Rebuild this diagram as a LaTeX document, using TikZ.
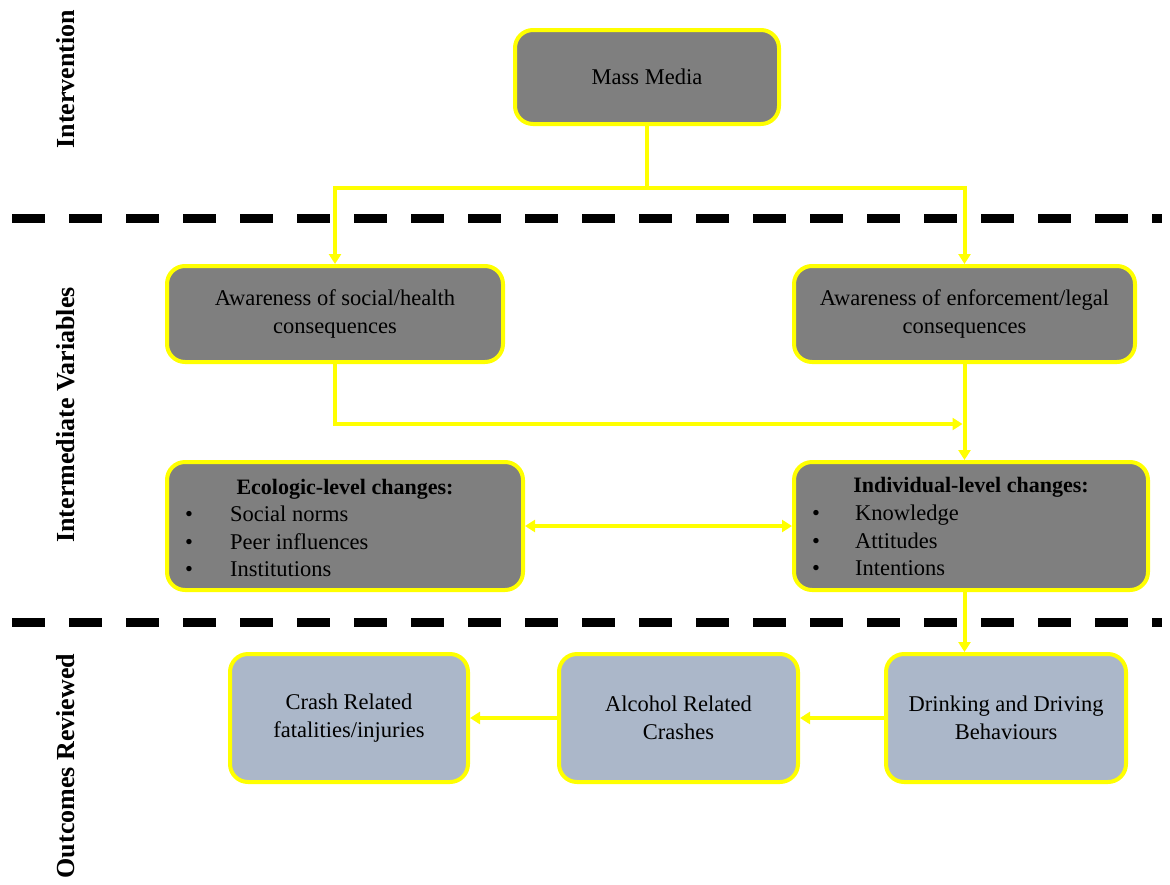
\documentclass[tikz,border=0pt]{standalone}
\usepackage{fontspec}
\setmainfont{Liberation Serif}
\usetikzlibrary{arrows.meta}
\definecolor{boxgray}{HTML}{7F7F7F}
\definecolor{boxblue}{HTML}{ABB7C9}
\definecolor{linkyellow}{HTML}{FFFF00}
\tikzset{
  box/.style={rectangle, rounded corners=18pt, draw=linkyellow, line width=4pt,
              fill=boxgray, inner sep=0pt},
  outbox/.style={box, fill=boxblue},
  boxtext/.style={font=\fontsize{22.5}{28}\selectfont, align=center, inner sep=0pt},
  itemtext/.style={font=\fontsize{22.5}{28}\selectfont, anchor=base west, inner sep=0pt},
  headtext/.style={font=\fontsize{22}{28}\selectfont\bfseries, anchor=base, inner sep=0pt},
  sidelabel/.style={rotate=90, font=\fontsize{26}{30}\selectfont\bfseries, inner sep=0pt},
  link/.style={draw=linkyellow, line width=4pt},
  tip/.tip={Triangle[length=10pt, width=12pt]},
  separator/.style={line width=9pt, dash pattern=on 33pt off 24pt}
}
\begin{document}
\begin{tikzpicture}[x=1pt, y=-1pt]
\useasboundingbox (0,0) rectangle (1170,884);

% section separators
\coordinate (sepAleft) at (12,218);
\coordinate (sepAright) at (1162,218);
\coordinate (sepBleft) at (12,622);
\coordinate (sepBright) at (1162,622);
\draw[separator] (sepAleft) -- (sepAright);
\draw[separator] (sepBleft) -- (sepBright);

% section labels
\node[sidelabel] (labInt) at (66,79) {Intervention};
\node[sidelabel] (labMid) at (66,415) {Intermediate Variables};
\node[sidelabel] (labOut) at (66,766) {Outcomes Reviewed};

% intervention
\node[box, minimum width=264pt, minimum height=94pt] (media) at (647,77) {};
\node[boxtext] (mediaT) at (media.center) {Mass Media};

% awareness boxes
\node[box, minimum width=336pt, minimum height=96pt] (social) at (335,314) {};
\node[boxtext] (socialT) at (social.center) {Awareness of social/health\\consequences};
\node[box, minimum width=341pt, minimum height=96pt] (enf) at (964.5,314) {};
\node[boxtext] (enfT) at (enf.center) {Awareness of enforcement/legal\\consequences};

% ecologic-level changes (baselines)
\node[box, minimum width=356pt, minimum height=128pt] (eco) at (345,526) {};
\node[headtext] (ecoH) at (345,494) {Ecologic-level changes:};
\node[itemtext] (ecoB1) at (185,521) {•};
\node[itemtext] (ecoI1) at (230,521) {Social norms};
\node[itemtext] (ecoB2) at (185,549) {•};
\node[itemtext] (ecoI2) at (230,549) {Peer influences};
\node[itemtext] (ecoB3) at (185,576) {•};
\node[itemtext] (ecoI3) at (230,576) {Institutions};

% individual-level changes (baselines)
\node[box, minimum width=354pt, minimum height=128pt] (indiv) at (971,526) {};
\node[headtext] (indH) at (971,492) {Individual-level changes:};
\node[itemtext] (indB1) at (812,520) {•};
\node[itemtext] (indI1) at (855,520) {Knowledge};
\node[itemtext] (indB2) at (812,548) {•};
\node[itemtext] (indI2) at (855,548) {Attitudes};
\node[itemtext] (indB3) at (812,575) {•};
\node[itemtext] (indI3) at (855,575) {Intentions};

% outcomes
\node[outbox, minimum width=240pt, minimum height=128pt] (drink) at (1006,718) {};
\node[boxtext] (drinkT) at (drink.center) {Drinking and Driving\\Behaviours};
\node[outbox, minimum width=239pt, minimum height=128pt] (alc) at (678.5,718) {};
\node[boxtext] (alcT) at (alc.center) {Alcohol Related\\Crashes};
\node[outbox, minimum width=238pt, minimum height=128pt] (crash) at (349,718) {};
\node[boxtext] (crashT) at (crash.center) {Crash Related\\fatalities/injuries};

% connectors
\coordinate (split) at (647,188);
\coordinate (join) at (964.5,424);
\draw[link] (media.south) -- (split);
\draw[link, -tip] (split) -| (social.north);
\draw[link, -tip] (split) -| (enf.north);
\draw[link, -tip, shorten >=2pt] (social.south) |- (join);
\draw[link, -tip] (enf.south) -- (enf.south |- indiv.north);
\draw[link, tip-tip] (eco.east) -- (indiv.west);
\draw[link, -tip] (indiv.south -| enf.south) -- (drink.north -| enf.south);
\draw[link, -tip] (drink.west) -- (alc.east);
\draw[link, -tip] (alc.west) -- (crash.east);
\end{tikzpicture}
\end{document}
